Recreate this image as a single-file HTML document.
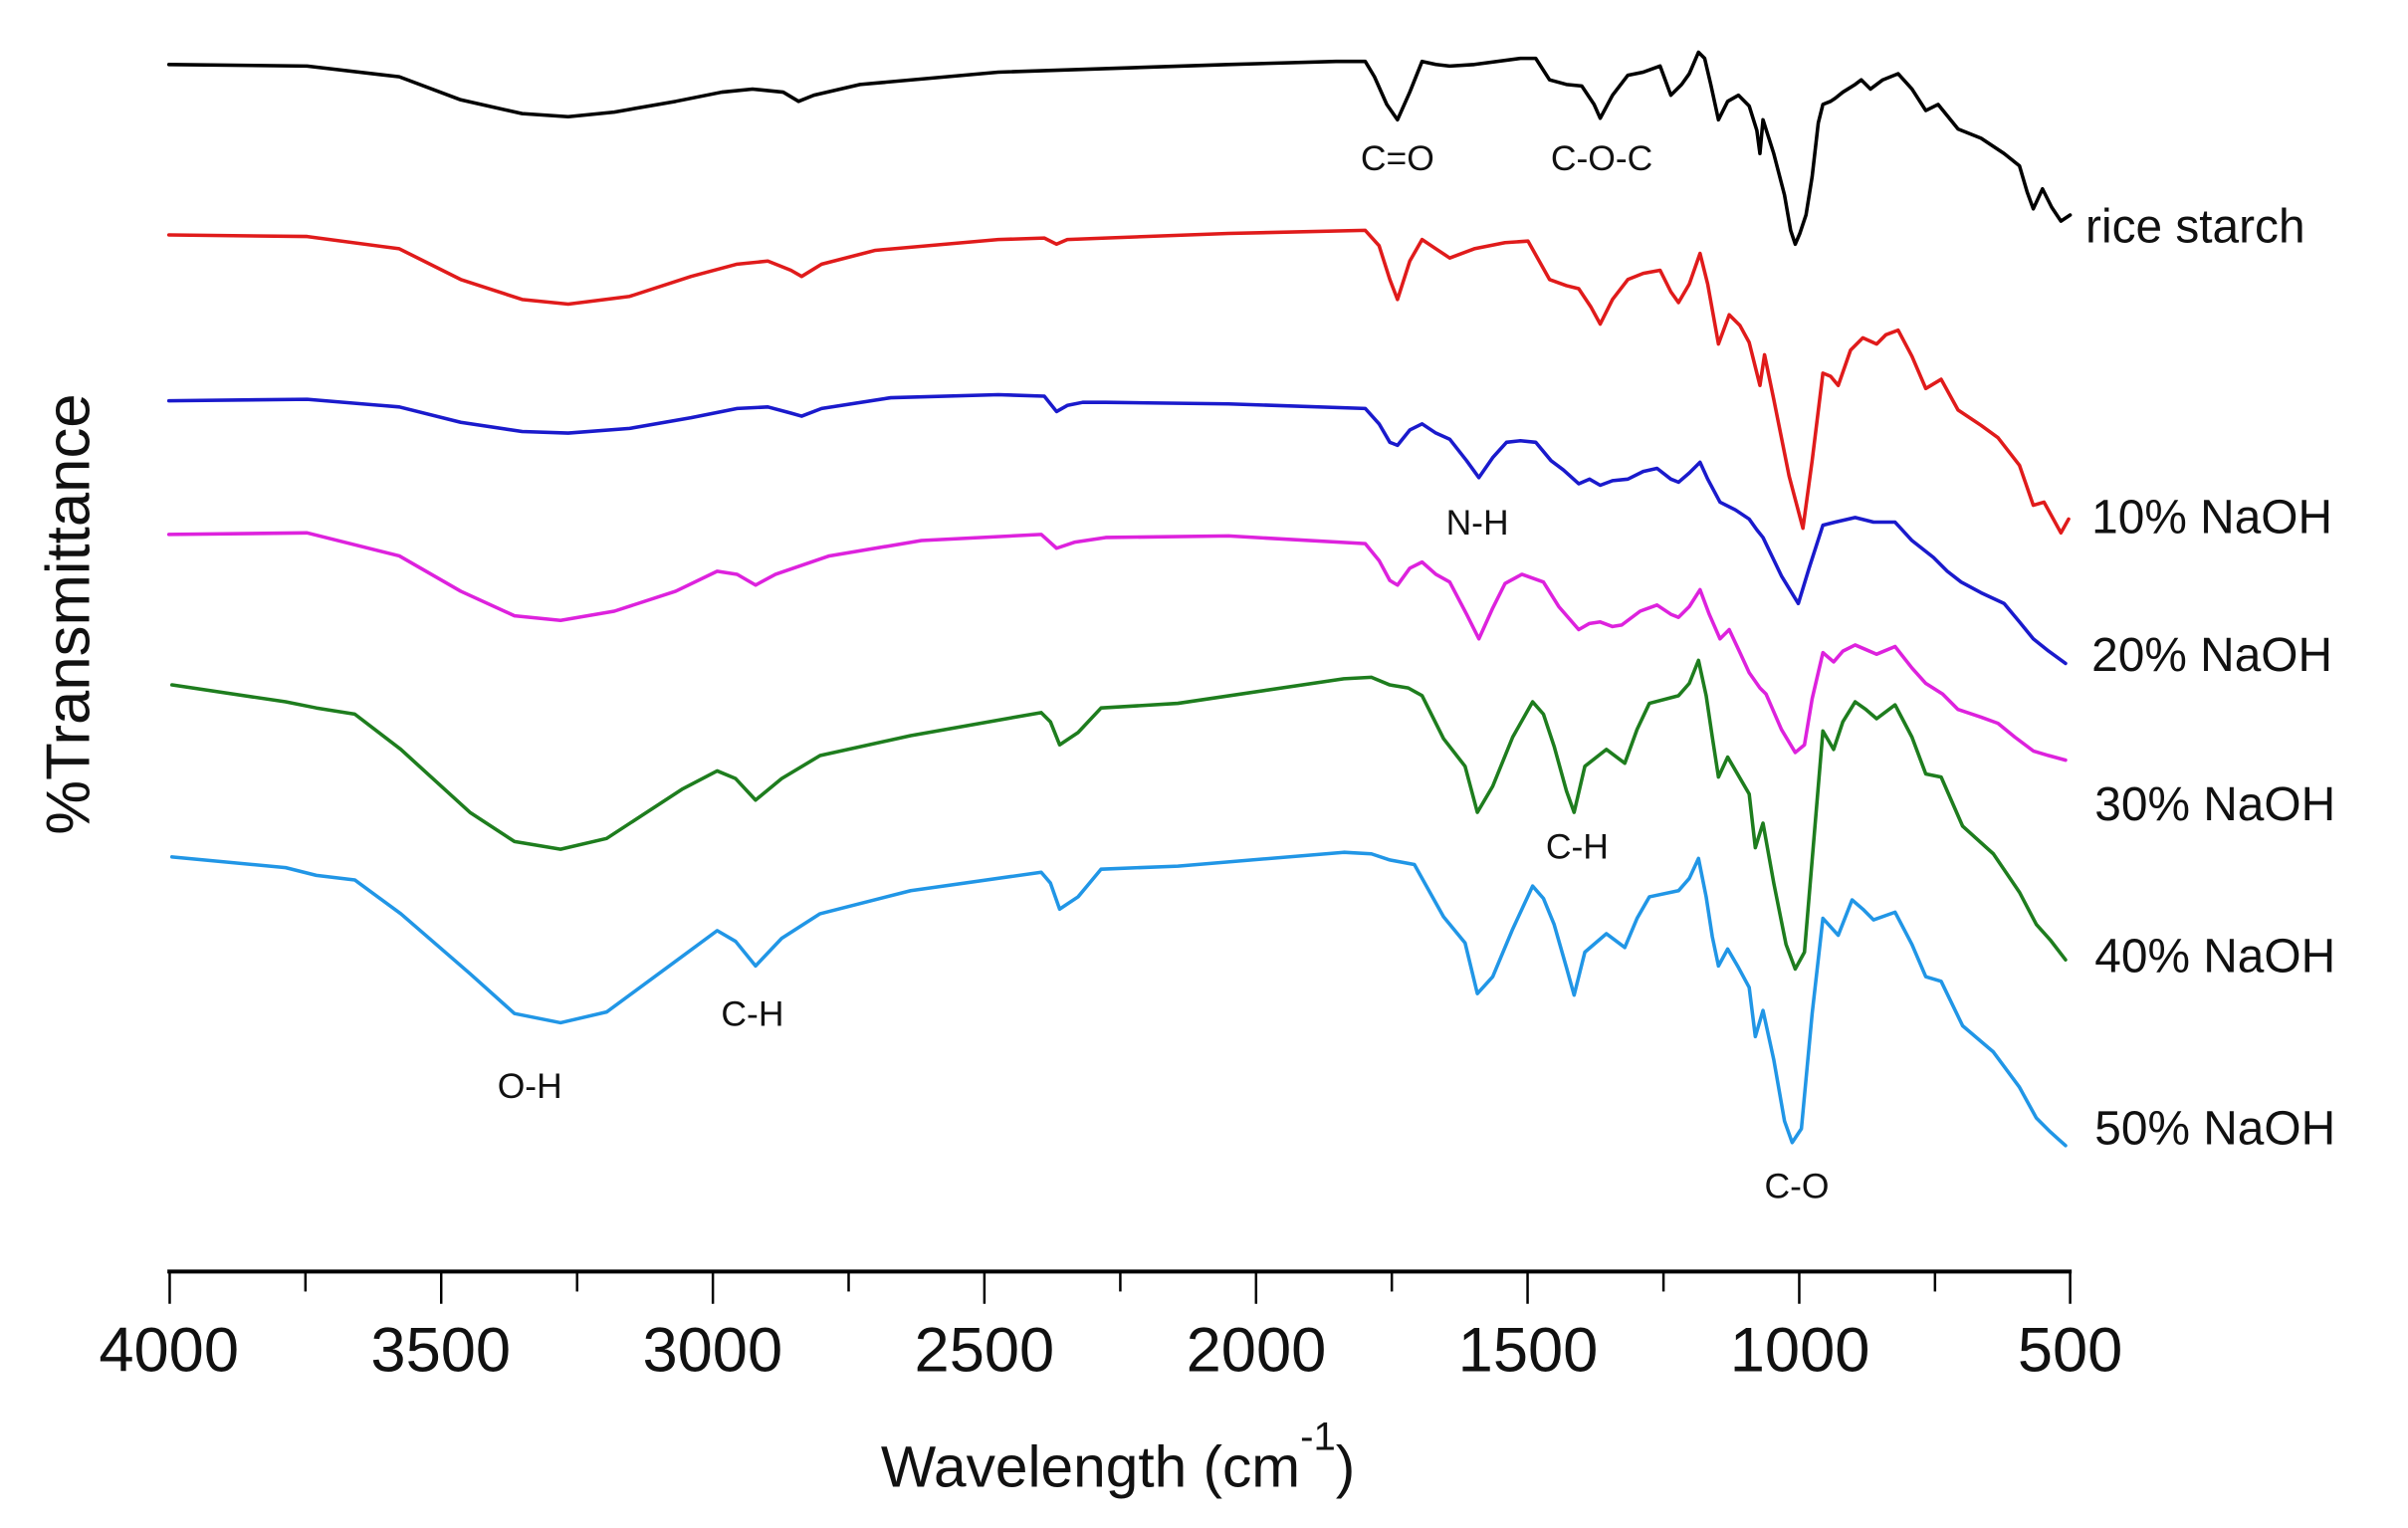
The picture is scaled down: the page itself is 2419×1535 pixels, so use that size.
<!DOCTYPE html>
<html><head><meta charset="utf-8"><style>
html,body{margin:0;padding:0;background:#fff;}
svg{display:block;}
text{font-family:"Liberation Sans",Arial,sans-serif;fill:#111;}
polyline{fill:none;stroke-width:2.3;stroke-linejoin:round;stroke-linecap:round;}
</style></head><body>
<svg width="2419" height="1535" viewBox="0 0 1568 995" preserveAspectRatio="none" xmlns="http://www.w3.org/2000/svg">
<rect width="1568" height="995" fill="#fff"/>
<polyline stroke="#000" points="110,42 200,43 260,50 300,65 340,74 370,76 400,73 440,66 470,60 490,58 510,60 520,66 530,62 560,55 650,47 800,42 870,40 889,40 895,50 903,68 910,78 918,60 926,40 935,42 944,43 960,42 990,38 1000,38 1009,52 1020,55 1030,56 1038,68 1042,77 1050,62 1060,49 1070,47 1081,43 1088,62 1095,55 1100,48 1106,34 1110,38 1114,55 1119,78 1125,66 1132,62 1139,69 1144,85 1146,100 1148,78 1155,100 1162,127 1166,150 1169,159 1172,152 1176,140 1180,115 1184,80 1187,68 1192,66 1195,64 1200,60 1208,55 1212,52 1218,58 1226,52 1236,48 1245,58 1254,72 1262,68 1275,84 1290,90 1305,100 1315,108 1320,125 1324,136 1330,123 1336,135 1342,144 1348,140"/>
<polyline stroke="#e01b1b" points="110,153 200,154 260,162 300,182 340,195 370,198 410,193 450,180 480,172 500,170 515,176 522,180 535,172 570,163 650,156 680,155 688,159 695,156 720,155 800,152 889,150 898,160 905,182 910,195 918,170 926,156 935,162 944,168 960,162 980,158 995,157 1009,182 1020,186 1028,188 1036,200 1042,211 1050,195 1060,182 1070,178 1081,176 1088,190 1093,197 1100,185 1107,165 1112,185 1119,224 1126,205 1133,212 1139,223 1146,251 1149,231 1155,260 1165,310 1174,344 1180,300 1187,243 1192,245 1197,251 1205,228 1213,220 1222,224 1228,218 1236,215 1245,232 1254,253 1264,247 1275,267 1290,277 1301,285 1315,303 1324,329 1331,327 1342,347 1347,338"/>
<polyline stroke="#1a1acc" points="110,261 200,260 260,265 300,275 340,281 370,282 410,279 450,272 480,266 500,265 515,269 522,271 535,266 580,259 650,257 680,258 688,268 695,264 705,262 720,262 800,263 889,266 898,276 905,288 910,290 918,280 926,276 935,282 944,286 955,300 963,311 972,298 981,288 990,287 1000,288 1010,300 1018,306 1028,315 1035,312 1042,316 1050,313 1060,312 1070,307 1079,305 1088,312 1093,314 1100,308 1107,301 1112,312 1120,327 1130,332 1139,338 1144,345 1148,350 1160,375 1171,393 1178,370 1187,342 1195,340 1208,337 1220,340 1234,340 1245,352 1259,363 1268,372 1277,379 1290,386 1305,393 1315,405 1324,416 1334,424 1345,432"/>
<polyline stroke="#dd22dd" points="110,348 200,347 260,362 300,385 335,401 365,404 400,398 440,385 467,372 480,374 492,381 505,374 540,362 600,352 678,348 688,357 700,353 720,350 800,349 889,354 898,365 905,378 910,381 918,370 926,366 935,374 944,379 955,400 963,416 972,396 980,380 991,374 1005,379 1015,395 1028,410 1035,406 1042,405 1050,408 1056,407 1068,398 1079,394 1088,400 1093,402 1100,395 1107,384 1113,400 1120,416 1126,410 1133,425 1139,438 1146,448 1150,452 1160,475 1169,490 1175,485 1180,455 1187,425 1194,431 1200,424 1208,420 1215,423 1222,426 1234,421 1245,435 1254,445 1265,452 1275,462 1290,467 1301,471 1312,480 1324,489 1334,492 1345,495"/>
<polyline stroke="#1e7d1e" points="112,446 186,457 206,461 231,465 261,488 306,529 335,548 365,553 395,546 444,514 467,502 479,507 492,521 509,507 534,492 593,479 678,464 684,470 690,485 702,477 717,461 767,458 875,442 893,441 905,446 917,448 926,453 940,481 954,499 962,529 972,512 985,480 998,457 1005,465 1012,486 1020,515 1025,529 1032,499 1046,488 1058,497 1066,475 1074,458 1093,453 1100,445 1106,430 1111,453 1115,480 1119,506 1125,493 1132,505 1139,517 1143,552 1148,536 1155,575 1163,615 1169,631 1175,620 1180,560 1187,476 1194,488 1200,470 1208,457 1215,462 1222,468 1234,459 1245,480 1254,504 1264,506 1278,538 1298,556 1315,581 1326,602 1335,612 1345,625"/>
<polyline stroke="#2196e6" points="112,558 186,565 206,570 231,573 261,595 306,634 335,660 365,666 395,659 444,623 467,606 479,613 492,629 509,611 534,595 593,580 678,568 684,575 690,592 702,584 717,566 767,564 875,555 893,556 905,560 921,563 940,597 954,614 962,647 972,636 985,605 998,577 1005,585 1012,602 1020,630 1025,648 1032,620 1046,608 1058,617 1066,598 1074,584 1093,580 1100,572 1106,559 1111,584 1115,610 1119,629 1125,618 1132,630 1139,643 1143,675 1148,658 1155,690 1162,730 1167,744 1173,735 1180,660 1187,598 1197,609 1206,586 1213,592 1220,599 1234,594 1245,615 1254,636 1264,639 1278,668 1298,685 1315,708 1326,728 1335,737 1345,746"/>
<line x1="109" y1="828" x2="1349" y2="828" stroke="#000" stroke-width="2.6"/>
<g stroke="#000" stroke-width="1.6">
<line x1="110.5" y1="828" x2="110.5" y2="849"/><line x1="287.3" y1="828" x2="287.3" y2="849"/><line x1="464.2" y1="828" x2="464.2" y2="849"/><line x1="641" y1="828" x2="641" y2="849"/><line x1="817.9" y1="828" x2="817.9" y2="849"/><line x1="994.7" y1="828" x2="994.7" y2="849"/><line x1="1171.6" y1="828" x2="1171.6" y2="849"/><line x1="1348" y1="828" x2="1348" y2="849"/>
<line x1="198.9" y1="828" x2="198.9" y2="841"/><line x1="375.8" y1="828" x2="375.8" y2="841"/><line x1="552.6" y1="828" x2="552.6" y2="841"/><line x1="729.5" y1="828" x2="729.5" y2="841"/><line x1="906.3" y1="828" x2="906.3" y2="841"/><line x1="1083.2" y1="828" x2="1083.2" y2="841"/><line x1="1260" y1="828" x2="1260" y2="841"/>
</g>
<g font-size="41" text-anchor="middle">
<text x="110" y="893">4000</text><text x="287" y="893">3500</text><text x="464" y="893">3000</text><text x="641" y="893">2500</text><text x="818" y="893">2000</text><text x="995" y="893">1500</text><text x="1172" y="893">1000</text><text x="1348" y="893">500</text>
</g>
<text x="728" y="968" font-size="38" text-anchor="middle">Wavelength (cm<tspan font-size="26" dy="-24">-1</tspan><tspan dy="24">)</tspan></text>
<text transform="translate(58,400) rotate(-90)" font-size="40" text-anchor="middle">%Transmittance</text>
<g font-size="31">
<text x="1358" y="158">rice starch</text>
<text x="1362" y="347">10% NaOH</text>
<text x="1362" y="437">20% NaOH</text>
<text x="1364" y="534">30% NaOH</text>
<text x="1364" y="633">40% NaOH</text>
<text x="1364" y="745">50% NaOH</text>
</g>
<g font-size="23" text-anchor="middle">
<text x="910" y="111">C=O</text>
<text x="1043" y="111">C-O-C</text>
<text x="962" y="348">N-H</text>
<text x="1027" y="559">C-H</text>
<text x="490" y="668">C-H</text>
<text x="345" y="715">O-H</text>
<text x="1170" y="780">C-O</text>
</g>
</svg>
</body></html>
